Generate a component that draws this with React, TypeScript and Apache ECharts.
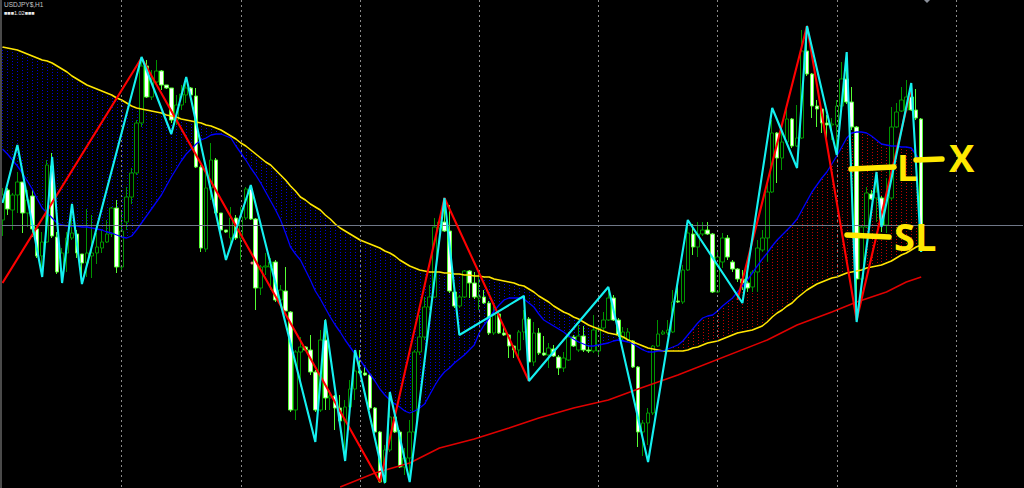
import React, { useEffect, useRef } from "react";
import * as echarts from "echarts";

// Picture level (0 = top of chart, 488 = bottom). Each candle: open, close, wick top, wick bottom.
const candles: number[][] = [
  [220,195,188,236],[190,209,188,215],[210,195,193,230],[195,182,172,213],[182,213,182,233],
  [213,200,190,227],[196,229,190,237],[229,256,229,258],[256,242,232,272],[242,165,160,243],
  [166,236,153,238],[237,272,232,274],[272,253,248,283],[253,238,232,272],[238,233,204,240],
  [234,253,230,258],[254,263,254,280],[263,253,209,277],[256,253,215,278],[253,247,233,264],
  [248,242,230,253],[242,234,220,243],[234,208,207,237],[208,267,200,273],[267,231,210,272],
  [222,197,187,230],[197,173,168,204],[173,123,120,175],[123,66,58,127],[66,97,60,98],
  [97,80,70,100],[82,71,60,85],[71,85,70,90],[85,88,85,89],[88,120,88,123],
  [120,105,95,125],[105,94,85,110],[95,88,77,103],[88,95,87,100],[96,167,88,168],
  [167,248,165,252],[249,188,165,252],[188,160,143,200],[160,213,158,215],[213,230,213,232],
  [230,232,230,233],[238,218,207,245],[218,238,215,240],[238,217,207,260],[218,189,187,220],
  [189,219,185,220],[219,288,218,310],[288,267,265,295],[267,266,253,275],[267,262,258,290],
  [262,300,260,302],[300,290,285,305],[291,311,267,311],[312,410,311,412],[410,352,350,420],
  [352,347,337,387],[347,350,346,350],[350,372,335,375],[372,410,370,412],[410,340,330,412],
  [340,398,319,410],[398,396,390,410],[396,408,395,430],[408,421,395,425],[421,407,400,455],
  [407,389,380,408],[389,371,350,400],[371,373,350,374],[373,375,365,376],[375,408,374,410],
  [408,432,407,433],[432,482,431,483],[482,450,445,484],[450,417,392,452],[417,432,415,433],
  [432,467,430,468],[467,458,448,475],[458,432,420,475],[432,352,350,440],[352,337,315,355],
  [337,307,297,340],[307,297,285,310],[297,227,218,298],[228,222,218,232],[222,231,198,232],
  [231,291,205,293],[292,306,290,308],[306,297,295,308],[297,271,270,298],[271,283,270,298],
  [283,297,272,299],[298,296,270,310],[297,303,290,304],[303,333,301,335],[333,315,305,335],
  [314,333,312,334],[333,335,325,336],[335,346,334,358],[346,350,345,358],[350,332,330,358],
  [332,319,310,340],[319,362,317,378],[362,333,322,366],[333,353,328,355],[353,355,336,356],
  [355,348,343,368],[349,356,345,357],[357,368,355,375],[368,358,352,372],[360,337,332,361],
  [337,346,335,347],[350,336,325,352],[336,350,326,352],[350,351,345,353],[351,330,315,353],
  [351,328,327,355],[328,320,312,330],[320,298,290,321],[298,320,295,321],[320,335,318,337],
  [338,332,327,340],[340,332,328,342],[341,367,340,368],[367,432,366,447],[432,423,420,456],
  [423,413,408,445],[413,346,345,415],[346,334,320,347],[334,332,330,335],[333,330,320,335],
  [332,302,290,333],[301,302,280,303],[302,270,265,304],[270,233,222,271],[234,247,224,255],
  [247,234,222,257],[234,230,222,236],[230,234,222,235],[234,292,233,293],[292,257,252,293],
  [262,238,233,268],[238,257,235,260],[262,269,260,272],[269,279,268,282],[279,283,270,290],
  [283,288,272,292],[287,272,270,292],[272,248,240,292],[250,238,230,252],[238,192,180,262],
  [192,133,120,193],[133,158,132,183],[158,142,130,170],[142,119,108,143],[119,146,118,148],
  [146,138,105,147],[138,51,30,139],[51,74,28,76],[74,106,73,118],[106,109,100,127],
  [109,123,108,133],[123,125,115,140],[125,124,118,140],[125,106,100,155],[106,79,62,108],
  [79,102,52,104],[102,127,87,130],[127,279,126,305],[279,227,225,300],[227,193,187,228],
  [194,199,190,200],[198,192,175,222],[198,225,196,232],[225,198,178,233],[198,127,107,200],
  [127,112,103,128],[111,100,87,112],[110,97,80,112],[97,110,85,111],[110,118,89,120],
  [119,250,118,252],
];

const yellowMa: number[] = [
  47,48,49,50,52,54,56,58,60,61,63,66,69,72,76,79,82,85,87,89,
  91,93,95,98,100,103,106,108,109,110,111,112,113,115,116,117,119,120,121,122,
  123,125,126,128,130,133,136,139,143,146,150,154,158,162,165,170,175,180,186,191,
  197,200,204,207,210,215,219,224,228,231,234,237,240,242,244,246,248,251,253,256,
  260,263,266,268,270,271,272,272,272,273,273,274,274,275,275,276,276,277,277,279,
  280,281,282,283,285,286,289,292,296,299,302,306,309,312,314,317,319,322,325,327,
  329,331,333,334,335,337,340,342,344,346,348,349,350,351,351,351,351,351,350,348,
  347,345,343,342,341,339,337,335,333,332,331,330,328,326,322,317,313,310,306,303,
  298,294,290,287,284,282,280,278,277,275,273,272,271,270,268,267,266,265,263,261,
  258,255,253,250,247,245,
];

const blueMa: number[] = [
  149,154,160,166,173,181,189,199,208,213,218,223,225,226,226,226,227,227,228,229,
  230,232,233,235,237,238,236,230,223,216,209,202,195,186,177,169,161,154,149,144,
  140,138,135,134,134,136,138,146,153,160,168,175,183,192,201,210,220,233,247,254,
  260,270,280,291,299,308,317,325,332,340,347,354,360,367,374,381,389,395,400,404,
  407,411,413,411,408,404,395,386,378,372,368,363,359,355,350,345,333,325,318,311,
  305,300,298,298,298,299,303,307,314,320,323,326,329,332,336,339,342,344,346,346,
  345,344,343,341,340,341,342,344,347,350,352,352,351,351,349,347,345,341,335,329,
  323,318,316,315,311,306,302,298,292,286,280,273,266,259,253,246,240,235,230,225,
  219,210,201,192,185,178,172,164,156,147,138,133,132,132,133,136,140,144,145,146,
  146,147,147,148,155,162,
];

// [candle index, level] pairs
const redMa: number[][] = [
  [68,487],[75,473],[82,463],[88,448],[95,439],[102,428],[108,418],[115,408],[122,400],
  [128,389],[136,375],[154,340],[160,325],[167,312],[172,302],[178,292],[182,282],[185,277],
];
const redZigzagA: number[][] = [[0,283],[28,58],[76,482],[89,198],[106,381]];
const redZigzagB: number[][] = [[148,300],[162,26],[172,320],[183,88]];
const cyanZigzag: number[][] = [
  [0,203],[3,145],[8,277],[10,157],[12,283],[14,204],[16,284],[28,57],[34,134],[37,77],
  [45,260],[50,185],[63,442],[65,320],[69,461],[71,350],[77,483],[78,392],[82,482],[89,198],
  [92,335],[105,296],[106,381],[122,287],[130,462],[138,220],[149,303],[155,108],[160,168],
  [162,26],[168,155],[170,52],[172,322],[176,172],[177,227],[183,83],[185,252],
];

const gridIdx = [24, 48, 72, 96, 120, 144, 168, 192];
const priceLevel = 225;
const categoryCount = 206;
const symbolText = "USDJPY$,H1";
const lotText = "■■■1.02■■■";

export default function App() {
  const ref = useRef<HTMLDivElement>(null);
  useEffect(() => {
    document.body.style.margin = "0";
    document.body.style.background = "#000";
    const chart = echarts.init(ref.current!, null, { renderer: "svg" });
    const categories = Array.from({ length: categoryCount }, (_, i) => String(i));
    const hatch = yellowMa.map((y, i) => [i, y, blueMa[i]]);
    const hand = "#ffe800";
    const stroke = (x1: number, y1: number, x2: number, y2: number) => ({
      type: "line",
      shape: { x1, y1, x2, y2 },
      style: { stroke: hand, lineWidth: 5.5, lineCap: "round" },
      z: 100,
    });
    const handText = (text: string, x: number, y: number, fontSize: number) => ({
      type: "text",
      x,
      y,
      z: 100,
      style: {
        text,
        fill: hand,
        font: `bold ${fontSize}px "Open Sans", sans-serif`,
        textAlign: "left",
        textVerticalAlign: "middle",
      },
    });
    chart.setOption({
      animation: false,
      backgroundColor: "#000",
      grid: { left: -1, top: 0, width: 1024, height: 488 },
      xAxis: {
        type: "category",
        data: categories,
        show: false,
      },
      yAxis: { type: "value", inverse: true, min: 0, max: 488, show: false },
      graphic: [
        { type: "rect", shape: { x: 0, y: 0, width: 2, height: 488 }, style: { fill: "#4a4a4a" }, z: 90 },
        { type: "polygon", shape: { points: [[924, 0], [930, 0], [927, 3]] }, style: { fill: "#8a8f99" }, z: 90 },
        { type: "circle", shape: { cx: 252, cy: 263, r: 1.5 }, style: { fill: "#e88" }, z: 90 },
        {
          type: "text", x: 4, y: 4, z: 100,
          style: { text: symbolText, fill: "#c8c8c8", font: '6.5px "Liberation Sans", sans-serif', textVerticalAlign: "middle" },
        },
        {
          type: "text", x: 4, y: 12.5, z: 100,
          style: { text: lotText, fill: "#e8e8e8", font: '5.5px "Liberation Sans", sans-serif', textVerticalAlign: "middle" },
        },
        stroke(851, 169, 894, 167),
        stroke(916, 160, 942, 159),
        stroke(847, 235, 889, 237),
        handText("L", 897, 167, 36),
        handText("X", 949, 157, 38),
        handText("SL", 894, 236, 38),
      ],
      series: [
        {
          type: "line",
          data: [],
          z: 1,
          silent: true,
          markLine: {
            silent: true,
            symbol: "none",
            label: { show: false },
            animation: false,
            data: [
              ...gridIdx.map((x) => ({
                xAxis: x,
                lineStyle: { color: "#8a8a8a", type: [2, 3], width: 1 },
              })),
              { yAxis: priceLevel, lineStyle: { color: "#6f7787", type: "solid", width: 1 } },
            ],
          },
        },
        {
          type: "custom",
          z: 2,
          silent: true,
          data: hatch,
          encode: { x: 0, y: [1, 2] },
          renderItem: (_: any, api: any) => {
            const y = api.value(1);
            const b = api.value(2);
            const p1 = api.coord([api.value(0), y]);
            const p2 = api.coord([api.value(0), b]);
            const x = Math.round(p1[0]) + 0.5;
            return {
              type: "line",
              shape: { x1: x, y1: p1[1], x2: x, y2: p2[1] },
              style: { stroke: y > b ? "#c00000" : "#0000d8", lineWidth: 1, lineDash: [1, 2] },
            };
          },
        },
        {
          type: "candlestick",
          z: 3,
          barWidth: 4,
          data: candles,
          itemStyle: {
            color: "#ffffff",
            borderColor: "#55ff33",
            color0: "#000000",
            borderColor0: "#009400",
            borderWidth: 1,
          },
        },
        { type: "line", z: 4, data: redMa, showSymbol: false, lineStyle: { color: "#e00000", width: 1.5 } },
        { type: "line", z: 4, data: yellowMa, showSymbol: false, lineStyle: { color: "#ffe600", width: 1.6 } },
        { type: "line", z: 4, data: blueMa, showSymbol: false, lineStyle: { color: "#0000ff", width: 1.3 } },
        { type: "line", z: 5, data: redZigzagA, showSymbol: false, lineStyle: { color: "#ff0000", width: 2.1 } },
        { type: "line", z: 5, data: redZigzagB, showSymbol: false, lineStyle: { color: "#ff0000", width: 2.1 } },
        { type: "line", z: 6, data: cyanZigzag, showSymbol: false, lineStyle: { color: "#14f0f0", width: 2.1 } },
      ],
    });
    return () => chart.dispose();
  }, []);
  return (
    <div
      ref={ref}
      style={{ position: "fixed", left: 0, top: 0, width: 1024, height: 488, background: "#000" }}
    />
  );
}
